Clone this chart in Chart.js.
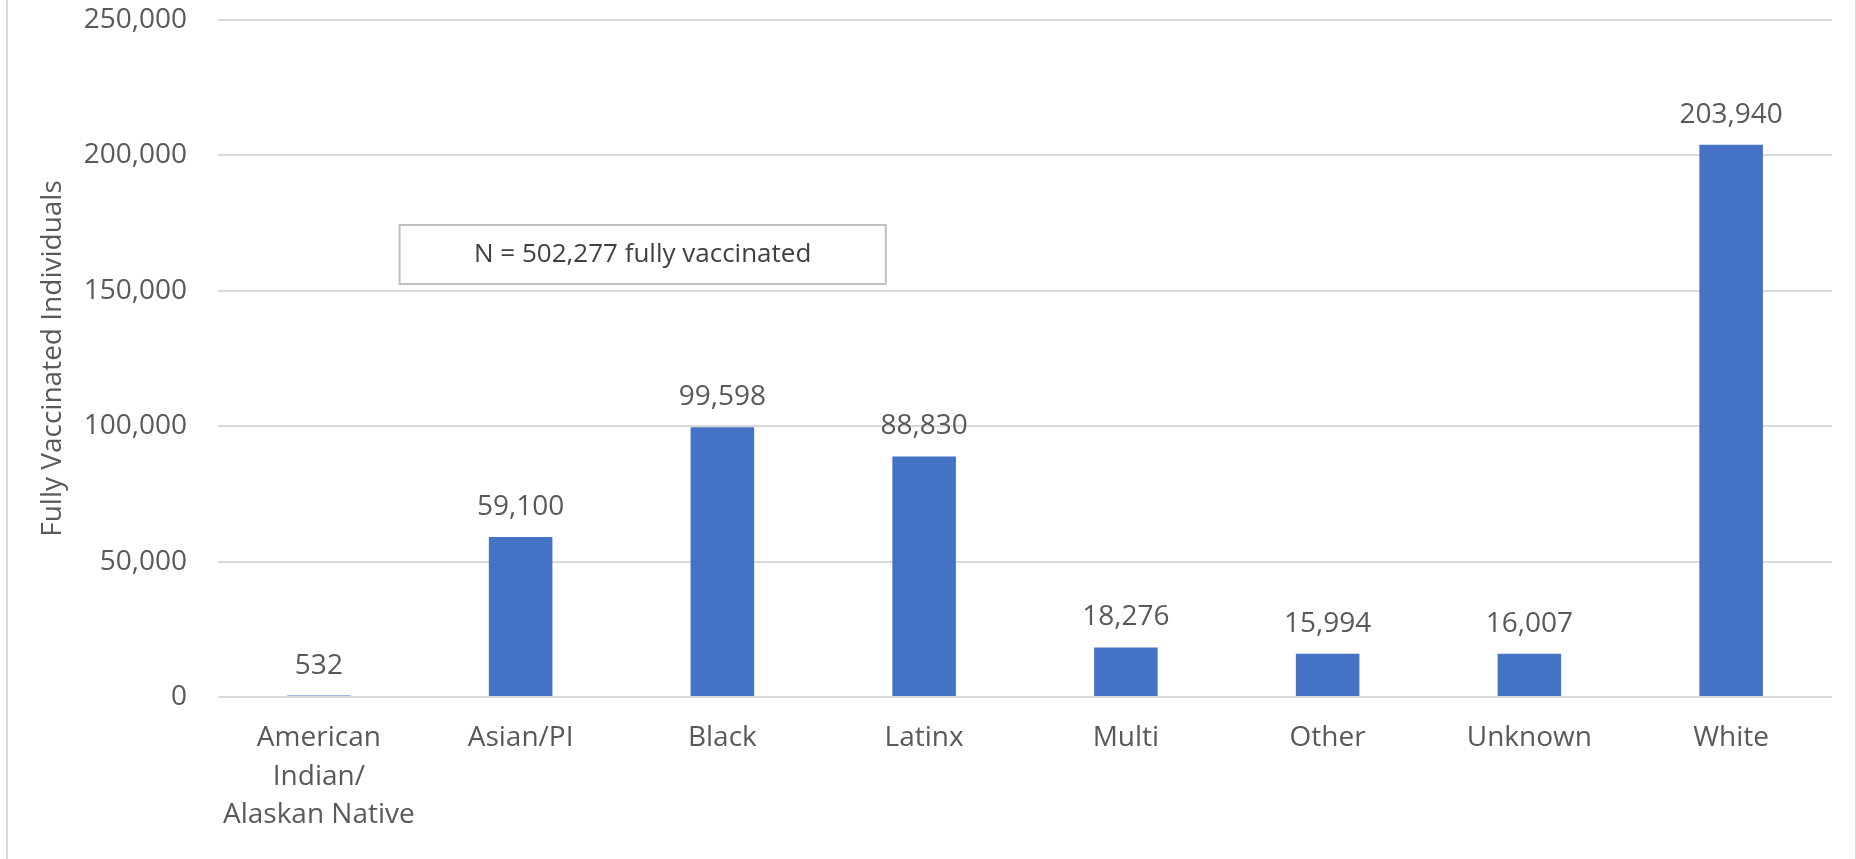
<!DOCTYPE html>
<html>
<head>
<meta charset="utf-8">
<script src="https://cdn.jsdelivr.net/npm/chart.js@4"></script>
<style>
    html, body { margin: 0; padding: 0; background: #fff; overflow: hidden; }
    #frame {
        position: absolute; left: 6px; top: -2px; width: 1847px; height: 863px;
        border-left: 2px solid #d9d9d9; border-right: 2px solid #d9d9d9;
    }
    #wrap { position: absolute; left: 0; top: 0; width: 1856px; height: 859px; }
</style>
</head>
<body>
<div id="frame"></div>
<div id="wrap"><canvas id="graphRace"></canvas></div>
<script>
const categories = ['American Indian/ Alaskan Native', 'Asian/PI', 'Black', 'Latinx', 'Multi', 'Other', 'Unknown', 'White'];
const tickLines = [['American', 'Indian/', 'Alaskan Native'], 'Asian/PI', 'Black', 'Latinx', 'Multi', 'Other', 'Unknown', 'White'];
const vaccinated = [532, 59100, 99598, 88830, 18276, 15994, 16007, 203940];
const yTicks = [0, 50000, 100000, 150000, 200000, 250000];
const noteText = 'N = 502,277 fully vaccinated';

const fontFamily = '"Open Sans", "Noto Sans", sans-serif';
const textColor = '#595959';

function fmt(v) {
    return v.toLocaleString('en-US');
}

// value labels above each bar
const barLabels = {
    id: 'barLabels',
    afterDatasetsDraw(chart) {
        const ctx = chart.ctx;
        const meta = chart.getDatasetMeta(0);
        ctx.save();
        ctx.font = '28px ' + fontFamily;
        ctx.fillStyle = textColor;
        ctx.textAlign = 'center';
        ctx.textBaseline = 'middle';
        meta.data.forEach((bar, i) => {
            ctx.fillText(fmt(vaccinated[i]), bar.x, bar.y - 30);
        });
        ctx.restore();
    }
};

// the "N = ..." note box, placed through the scales
const noteBox = {
    id: 'noteBox',
    afterDraw(chart) {
        const x = chart.scales.x, y = chart.scales.y;
        const left = x.getPixelForValue(0.40);
        const right = x.getPixelForValue(2.81);
        const top = y.getPixelForValue(174300);
        const bottom = y.getPixelForValue(152500);
        const ctx = chart.ctx;
        ctx.save();
        ctx.fillStyle = '#fff';
        ctx.fillRect(left, top, right - left, bottom - top);
        ctx.strokeStyle = '#bfbfbf';
        ctx.lineWidth = 2;
        ctx.strokeRect(left, top, right - left, bottom - top);
        ctx.font = '26px ' + fontFamily;
        ctx.fillStyle = '#404040';
        ctx.textAlign = 'center';
        ctx.textBaseline = 'middle';
        ctx.fillText(noteText, (left + right) / 2, (top + bottom) / 2);
        ctx.restore();
    }
};

const chart = new Chart(document.getElementById('graphRace'), {
    type: 'bar',
    data: {
        labels: categories,
        datasets: [{
            label: 'Fully Vaccinated Individuals',
            data: vaccinated,
            backgroundColor: '#4472C4',
            categoryPercentage: 1,
            barPercentage: 0.315
        }]
    },
    options: {
        responsive: true,
        maintainAspectRatio: false,
        animation: false,
        layout: { padding: { left: 0, right: 24, top: 20, bottom: 0 } },
        plugins: {
            legend: { display: false },
            tooltip: { enabled: false }
        },
        scales: {
            x: {
                grid: { display: false, drawTicks: false },
                border: { display: false },
                ticks: {
                    color: textColor,
                    font: { family: fontFamily, size: 28, lineHeight: 1.375 },
                    padding: 22,
                    maxRotation: 0,
                    autoSkip: false,
                    callback: (v, i) => tickLines[i]
                },
                afterFit: (scale) => {
                    scale.height = 162;
                    scale.paddingLeft = 0;
                    scale.paddingRight = 0;
                }
            },
            y: {
                min: 0,
                max: 250000,
                afterBuildTicks: (scale) => { scale.ticks = yTicks.map(v => ({ value: v })); },
                grid: { color: '#d9d9d9', lineWidth: 2, drawTicks: false },
                border: { display: false },
                ticks: {
                    color: textColor,
                    font: { family: fontFamily, size: 28 },
                    padding: 31,
                    callback: (v) => fmt(v)
                },
                title: {
                    display: true,
                    text: 'Fully Vaccinated Individuals',
                    color: textColor,
                    font: { family: fontFamily, size: 28 },
                    padding: { top: 36, bottom: 0 }
                },
                afterFit: (scale) => {
                    scale.width = 218;
                    scale.paddingTop = 0;
                    scale.paddingBottom = 0;
                }
            }
        }
    },
    plugins: [barLabels, noteBox]
});
</script>
</body>
</html>
